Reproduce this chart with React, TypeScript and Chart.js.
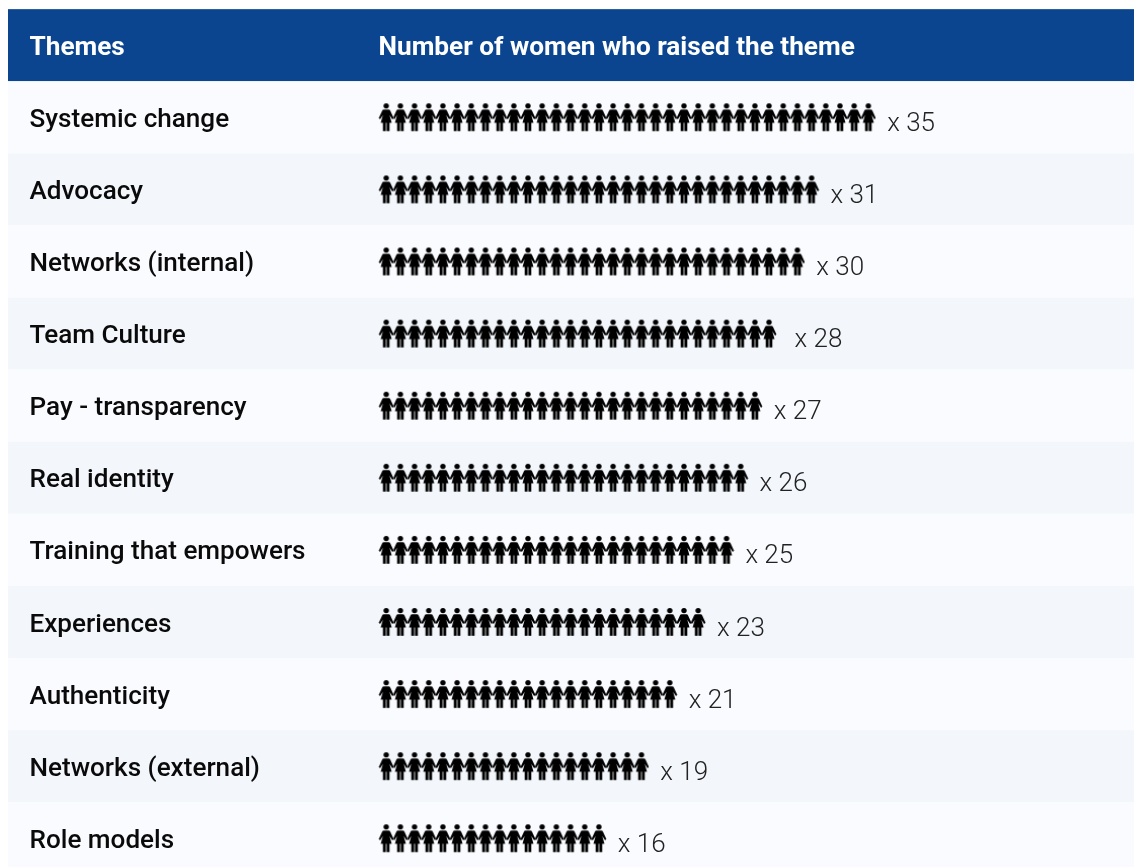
import React, { useEffect, useRef } from "react";
import { Chart, registerables } from "chart.js";

Chart.register(...registerables);

const headerThemes = "Themes";
const headerCount = "Number of women who raised the theme";
const themes = [
  "Systemic change", "Advocacy", "Networks (internal)", "Team Culture", "Pay - transparency",
  "Real identity", "Training that empowers", "Experiences", "Authenticity", "Networks (external)", "Role models",
];
const counts = [35, 31, 30, 28, 27, 26, 25, 23, 21, 19, 16];

const W = 1134, H = 867;
const STEP_X = 14.18, FIRST_X = 386.2;
const STEP_Y = 72.1, FIRST_Y = 45.2;
const LABEL_SHIFT = 3 / STEP_Y;

function womanIcon(): HTMLCanvasElement {
  const c = document.createElement("canvas");
  c.width = 16; c.height = 30;
  const g = c.getContext("2d")!;
  g.fillStyle = "#000";
  g.beginPath(); g.arc(8, 3.6, 2.7, 0, Math.PI * 2); g.fill();
  g.beginPath();
  g.moveTo(5.6, 7.2);
  g.lineTo(10.4, 7.2);
  g.quadraticCurveTo(11.6, 7.3, 12.1, 8.4);
  g.lineTo(15.4, 15.8);
  g.lineTo(14.1, 17.0);
  g.lineTo(11.3, 12.8);
  g.lineTo(13.5, 20.6);
  g.lineTo(2.5, 20.6);
  g.lineTo(4.7, 12.8);
  g.lineTo(1.9, 17.0);
  g.lineTo(0.6, 15.8);
  g.lineTo(3.9, 8.4);
  g.quadraticCurveTo(4.4, 7.3, 5.6, 7.2);
  g.closePath();
  g.fill();
  g.fillRect(4.7, 20, 2.9, 8.8);
  g.fillRect(8.4, 20, 2.9, 8.8);
  return c;
}

export default function App() {
  const ref = useRef<HTMLCanvasElement>(null);
  useEffect(() => {
    const icon = womanIcon();
    const rowPlugin = {
      id: "rows",
      beforeDraw(chart: any) {
        const { ctx, scales } = chart;
        const y = scales.y;
        ctx.save();
        ctx.fillStyle = "#0b448f";
        ctx.fillRect(8, y.getPixelForValue(-0.5), W - 8, STEP_Y);
        themes.forEach((_, i) => {
          ctx.fillStyle = i % 2 === 0 ? "#fafbfe" : "#f3f7fb";
          ctx.fillRect(8, y.getPixelForValue(i + 0.5), W - 8, STEP_Y);
        });
        ctx.restore();
      },
      afterDatasetsDraw(chart: any) {
        const { ctx, scales } = chart;
        ctx.save();
        ctx.textAlign = "left";
        ctx.textBaseline = "middle";
        ctx.fillStyle = "#ffffff";
        ctx.font = "700 26.2px Roboto";
        ctx.fillText(headerCount, 378.5, scales.y.getPixelForValue(0) + 3);
        ctx.fillStyle = "#222222";
        ctx.font = "300 26px Roboto";
        counts.forEach((n, i) => {
          const gap = n === 28 ? 1.3 : 0.83;
          const px = scales.x.getPixelForValue(n + 0.5 + gap);
          ctx.fillText("x " + n, px, scales.y.getPixelForValue(i + 1) + 7);
        });
        ctx.restore();
      },
    };
    const chart = new Chart(ref.current!, {
      type: "scatter",
      data: {
        datasets: counts.map((n, i) => ({
          label: themes[i],
          data: Array.from({ length: n }, (_, k) => ({ x: k + 1, y: i + 1 })),
          pointStyle: icon as any,
          pointRadius: 8,
          pointHoverRadius: 8,
          showLine: false,
        })),
      },
      options: {
        animation: false,
        responsive: false,
        layout: { padding: 0, autoPadding: false },
        plugins: { legend: { display: false }, tooltip: { enabled: false } },
        scales: {
          x: {
            type: "linear",
            display: false,
            min: 1 - FIRST_X / STEP_X,
            max: 1 + (W - FIRST_X) / STEP_X,
          },
          y: {
            type: "linear",
            reverse: true,
            min: -FIRST_Y / STEP_Y,
            max: (H - FIRST_Y) / STEP_Y,
            afterBuildTicks(axis: any) {
              axis.ticks = [headerThemes, ...themes].map((_, i) => ({ value: i + LABEL_SHIFT }));
            },
            afterFit(axis: any) {
              axis.width = 0;
              axis.paddingTop = 0;
              axis.paddingBottom = 0;
              axis.paddingLeft = 0;
              axis.paddingRight = 0;
            },
            border: { display: false },
            grid: { display: false },
            ticks: {
              mirror: true,
              padding: 29.5,
              autoSkip: false,
              callback: (v: any) => [headerThemes, ...themes][Math.round(v as number)],
              color: (c: any) => (c.index === 0 ? "#ffffff" : "#0a0a0a"),
              font: (c: any) => ({ family: "Roboto", size: c.index === 0 ? 26.2 : 26.1, weight: c.index === 0 ? 700 : 500 }),
            },
          },
        },
      } as any,
      plugins: [rowPlugin],
    });
    return () => chart.destroy();
  }, []);
  return <canvas ref={ref} width={W} height={H} style={{ position: "absolute", left: 0, top: 0, display: "block" }} />;
}
